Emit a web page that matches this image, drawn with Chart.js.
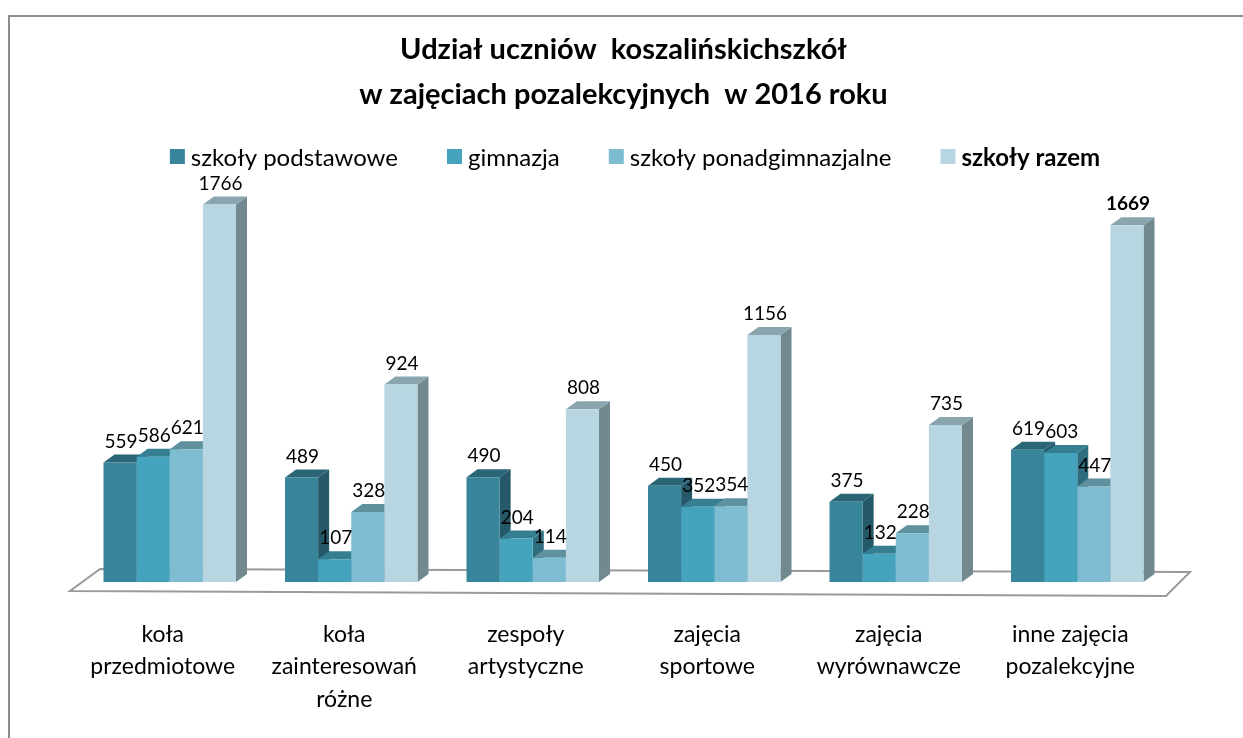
<!DOCTYPE html>
<html>
<head>
<meta charset="utf-8">
<script src="https://cdn.jsdelivr.net/npm/chart.js@4"></script>
<style>
  html, body { margin: 0; padding: 0; background: #fff; }
  #wrap { position: relative; width: 1243px; height: 738px; overflow: hidden; }
</style>
</head>
<body>
<div id="wrap"><canvas id="chart" width="1243" height="738"></canvas></div>
<script>
const categories = [
    ["koła", "przedmiotowe"],
    ["koła", "zainteresowań", "różne"],
    ["zespoły", "artystyczne"],
    ["zajęcia", "sportowe"],
    ["zajęcia", "wyrównawcze"],
    ["inne zajęcia", "pozalekcyjne"]
];
const seriesNames = ["szkoły podstawowe", "gimnazja", "szkoły ponadgimnazjalne", "szkoły razem"];
const podstawowe = [559, 489, 490, 450, 375, 619];
const gimnazja = [586, 107, 204, 352, 132, 603];
const ponadgimnazjalne = [621, 328, 114, 354, 228, 447];
const razem = [1766, 924, 808, 1156, 735, 1669];

const frontColors = ["#38849b", "#46a3bd", "#7dbcd1", "#b7d6e2"];
const topColors = ["#2b6676", "#367e92", "#5e909e", "#8aa5ae"];
const sideColors = ["#255868", "#2e6d7e", "#52808d", "#738990"];
const DX = 11, DY = -8;
const FONT = "Lato, 'Noto Sans', sans-serif";

// frame, floor and the 3D top/side faces drawn behind the flat bars
const depthPlugin = {
    id: "depth",
    beforeDatasetsDraw(chart) {
        const c = chart.ctx;
        const a = chart.chartArea;
        c.save();
        // floor
        c.strokeStyle = "#9a9a9a";
        c.lineWidth = 2;
        c.beginPath();
        c.moveTo(a.left - 9, a.bottom + 9);
        c.lineTo(a.right - 2, a.bottom + 14);
        c.lineTo(a.right + 22, a.bottom - 10);
        c.lineTo(a.left + 21, a.bottom - 13);
        c.closePath();
        c.stroke();
        chart.data.datasets.forEach((ds, di) => {
            const meta = chart.getDatasetMeta(di);
            meta.data.forEach(bar => {
                const p = bar.getProps(["x", "y", "base", "width"], true);
                const l = p.x - p.width / 2, r = p.x + p.width / 2;
                c.fillStyle = sideColors[di];
                c.beginPath();
                c.moveTo(r, p.y);
                c.lineTo(r + DX, p.y + DY);
                c.lineTo(r + DX, p.base + DY);
                c.lineTo(r, p.base);
                c.closePath();
                c.fill();
                c.fillStyle = topColors[di];
                c.beginPath();
                c.moveTo(l, p.y);
                c.lineTo(l + DX, p.y + DY);
                c.lineTo(r + DX, p.y + DY);
                c.lineTo(r, p.y);
                c.closePath();
                c.fill();
            });
        });
        c.restore();
    },
    afterDatasetsDraw(chart) {
        const c = chart.ctx;
        c.save();
        c.fillStyle = "#000";
        c.textAlign = "center";
        c.textBaseline = "middle";
        chart.data.datasets.forEach((ds, di) => {
            const meta = chart.getDatasetMeta(di);
            meta.data.forEach((bar, i) => {
                const bold = di === 3 && i === categories.length - 1;
                c.font = (bold ? "bold " : "") + "19px " + FONT;
                c.fillText(String(ds.data[i]), bar.x + 1, bar.y - 21);
            });
        });
        c.restore();
    },
    afterDraw(chart) {
        const c = chart.ctx;
        c.save();
        // border of the chart object (top and left edges visible)
        c.strokeStyle = "#8c8c8c";
        c.lineWidth = 2;
        c.beginPath();
        c.moveTo(9, 760);
        c.lineTo(9, 16);
        c.lineTo(1260, 16);
        c.stroke();
        // legend
        const box = 15, gapText = 6, gapItem = 49;
        const items = chart.data.datasets.map((ds, di) => {
            const font = (di === 3 ? "bold " : "") + "24px " + FONT;
            c.font = font;
            return { text: ds.label, font, w: box + gapText + c.measureText(ds.label).width, color: frontColors[di] };
        });
        const total = items.reduce((s, it) => s + it.w, 0) + gapItem * (items.length - 1);
        let x = 635 - total / 2;
        const y = 157;
        items.forEach(it => {
            c.fillStyle = it.color;
            c.fillRect(x, y - 8, box, box);
            c.fillStyle = "#000";
            c.font = it.font;
            c.textAlign = "left";
            c.textBaseline = "middle";
            c.fillText(it.text, x + box + gapText, y + 1);
            x += it.w + gapItem;
        });
        c.restore();
    }
};

const ctx = document.getElementById("chart").getContext("2d");

let chart = new Chart(ctx, {
    type: "bar",
    data: {
        labels: categories,
        datasets: [podstawowe, gimnazja, ponadgimnazjalne, razem].map((vals, di) => ({
            label: seriesNames[di],
            data: vals,
            backgroundColor: frontColors[di],
            borderWidth: 0,
            categoryPercentage: 0.73,
            barPercentage: 1.0
        }))
    },
    options: {
        responsive: false,
        animation: false,
        layout: {
            padding: { left: 79, right: 75, top: 0, bottom: 21 }
        },
        plugins: {
            legend: { display: false },
            tooltip: { enabled: false },
            title: {
                display: true,
                text: ["Udział uczniów  koszalińskichszkół", "w zajęciach pozalekcyjnych  w 2016 roku"],
                color: "#000",
                font: { family: FONT, size: 29, weight: "bold", lineHeight: 1.55 },
                padding: { top: 27, bottom: 59 }
            }
        },
        scales: {
            x: {
                grid: { display: false, drawTicks: false },
                border: { display: false },
                afterFit(scale) { scale.height = 135; },
                ticks: {
                    color: "#000",
                    padding: 36,
                    labelOffset: -7,
                    maxRotation: 0,
                    autoSkip: false,
                    font: { family: FONT, size: 23, lineHeight: 1.42 }
                }
            },
            y: {
                display: false,
                min: 0,
                max: 1900
            }
        }
    },
    plugins: [depthPlugin]
});
</script>
</body>
</html>
